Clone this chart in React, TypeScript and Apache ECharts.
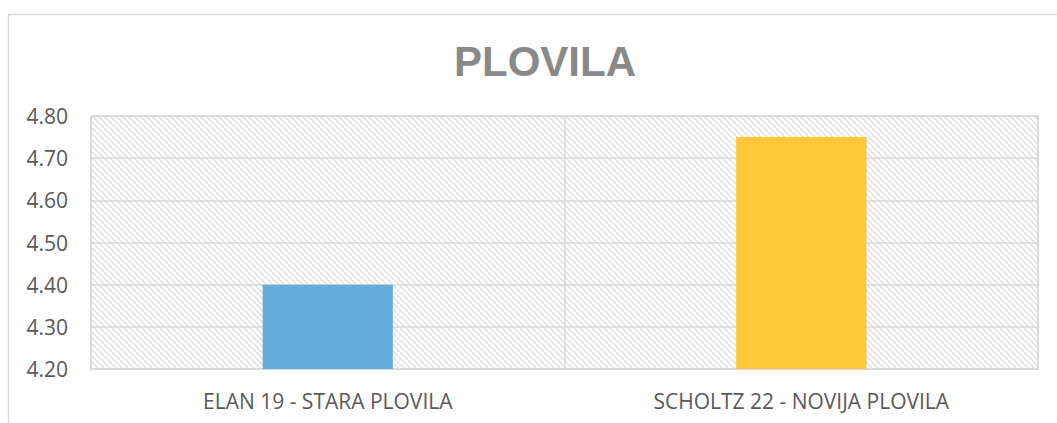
import React, { useEffect, useRef } from "react";
import * as echarts from "echarts";

const titleText = "PLOVILA";
const categories = ["ELAN 19 - STARA PLOVILA", "SCHOLTZ 22 - NOVIJA PLOVILA"];
const values = [4.4, 4.75];
const barColors = ["#64ACDA", "#FFC638"];
const yMin = 4.2;
const yMax = 4.8;
const yStep = 0.1;

function makeHatch(): HTMLCanvasElement {
  const n = 6;
  const c = document.createElement("canvas");
  c.width = n;
  c.height = n;
  const ctx = c.getContext("2d")!;
  ctx.fillStyle = "#ffffff";
  ctx.fillRect(0, 0, n, n);
  ctx.strokeStyle = "#dedede";
  ctx.lineWidth = 1.4;
  ctx.beginPath();
  ctx.moveTo(-1, -1);
  ctx.lineTo(n + 1, n + 1);
  ctx.moveTo(-1, n - 1);
  ctx.lineTo(1, n + 1);
  ctx.moveTo(n - 1, -1);
  ctx.lineTo(n + 1, 1);
  ctx.stroke();
  return c;
}

export default function App() {
  const ref = useRef<HTMLDivElement>(null);
  useEffect(() => {
    if (!ref.current) return;
    const chart = echarts.init(ref.current, undefined, { renderer: "svg" });
    const hatch = makeHatch();
    chart.setOption({
      animation: false,
      backgroundColor: "#ffffff",
      title: {
        text: titleText,
        left: 540,
        top: 35,
        textAlign: "center",
        textStyle: {
          fontFamily: "Liberation Sans",
          fontWeight: "bold",
          fontSize: 42,
          color: "#898989",
        },
      },
      graphic: [
        {
          type: "rect",
          shape: { x: 8.5, y: 14.5, width: 1100, height: 500 },
          style: { fill: "none", stroke: "#d9d9d9", lineWidth: 1.5 },
          silent: true,
          z: -1,
        },
      ],
      grid: {
        left: 91,
        right: 19,
        top: 116,
        bottom: 54,
        show: true,
        backgroundColor: {
          image: hatch,
          repeat: "repeat",
          imageWidth: 6,
          imageHeight: 6,
        },
        borderColor: "#d9d9d9",
        borderWidth: 1.5,
      },
      xAxis: {
        type: "category",
        data: categories,
        axisLine: { show: true, lineStyle: { color: "#d9d9d9", width: 1.5 } },
        axisTick: { show: false },
        splitLine: { show: true, lineStyle: { color: "#d9d9d9", width: 1.5 } },
        axisLabel: {
          color: "#595959",
          fontFamily: "Open Sans",
          fontSize: 21,
          margin: 21,
        },
      },
      yAxis: {
        type: "value",
        min: yMin,
        max: yMax,
        interval: yStep,
        axisLine: { show: false },
        axisTick: { show: false },
        splitLine: { show: true, lineStyle: { color: "#d9d9d9", width: 1.5 } },
        axisLabel: {
          color: "#595959",
          fontFamily: "Open Sans",
          fontSize: 21,
          margin: 23,
          formatter: (v: number) => v.toFixed(2),
        },
      },
      series: [
        {
          type: "bar",
          data: values.map((v, i) => ({ value: v, itemStyle: { color: barColors[i] } })),
          barWidth: "27.5%",
        },
      ],
    });
    return () => chart.dispose();
  }, []);
  return (
    <div
      ref={ref}
      style={{ position: "fixed", left: 0, top: 0, width: 1057, height: 423 }}
    />
  );
}
